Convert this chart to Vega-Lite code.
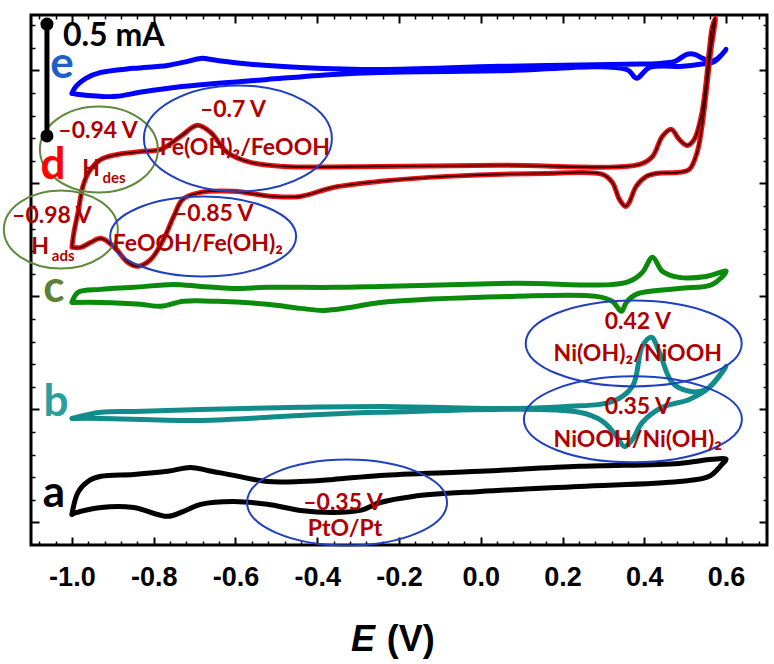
{
  "$schema": "https://vega.github.io/schema/vega-lite/v6.json",
  "width": 736,
  "height": 530,
  "autosize": "none",
  "padding": {"left": 31, "top": 15, "right": 7, "bottom": 119},
  "config": {
    "view": {"stroke": "black", "strokeWidth": 3},
    "axis": {"domain": false, "grid": false, "tickColor": "black", "labels": false}
  },
  "datasets": {
    "curves": [
      {"c":"e","i":0,"E":-1.0,"I":1.898},{"c":"e","i":1,"E":-0.99,"I":1.929},{"c":"e","i":2,"E":-0.966,"I":1.965},{"c":"e","i":3,"E":-0.929,"I":1.991},{"c":"e","i":4,"E":-0.849,"I":2.009},{"c":"e","i":5,"E":-0.766,"I":2.022},{"c":"e","i":6,"E":-0.717,"I":2.04},{"c":"e","i":7,"E":-0.685,"I":2.053},{"c":"e","i":8,"E":-0.644,"I":2.044},{"c":"e","i":9,"E":-0.563,"I":2.027},{"c":"e","i":10,"E":-0.441,"I":2.013},{"c":"e","i":11,"E":-0.246,"I":2.004},{"c":"e","i":12,"E":0.046,"I":2.018},{"c":"e","i":13,"E":0.357,"I":2.027},{"c":"e","i":14,"E":0.438,"I":2.031},{"c":"e","i":15,"E":0.475,"I":2.04},{"c":"e","i":16,"E":0.504,"I":2.071},{"c":"e","i":17,"E":0.523,"I":2.071},{"c":"e","i":18,"E":0.543,"I":2.053},{"c":"e","i":19,"E":0.565,"I":2.04},{"c":"e","i":20,"E":0.585,"I":2.062},{"c":"e","i":21,"E":0.6,"I":2.093},{"c":"e","i":22,"E":0.572,"I":2.04},{"c":"e","i":23,"E":0.536,"I":2.027},{"c":"e","i":24,"E":0.494,"I":2.018},{"c":"e","i":25,"E":0.413,"I":2.013},{"c":"e","i":26,"E":0.381,"I":1.965},{"c":"e","i":27,"E":0.357,"I":2.004},{"c":"e","i":28,"E":0.046,"I":1.998},{"c":"e","i":29,"E":-0.246,"I":1.991},{"c":"e","i":30,"E":-0.361,"I":1.982},{"c":"e","i":31,"E":-0.522,"I":1.96},{"c":"e","i":32,"E":-0.685,"I":1.936},{"c":"e","i":33,"E":-0.768,"I":1.92},{"c":"e","i":34,"E":-0.834,"I":1.903},{"c":"e","i":35,"E":-0.89,"I":1.885},{"c":"e","i":36,"E":-0.931,"I":1.885},{"c":"e","i":37,"E":-0.988,"I":1.894},{"c":"e","i":38,"E":-1.0,"I":1.898},
      {"c":"d","i":0,"E":-1.0,"I":1.217},{"c":"d","i":1,"E":-0.995,"I":1.283},{"c":"d","i":2,"E":-0.985,"I":1.372},{"c":"d","i":3,"E":-0.973,"I":1.487},{"c":"d","i":4,"E":-0.959,"I":1.549},{"c":"d","i":5,"E":-0.929,"I":1.606},{"c":"d","i":6,"E":-0.888,"I":1.628},{"c":"d","i":7,"E":-0.824,"I":1.642},{"c":"d","i":8,"E":-0.783,"I":1.65},{"c":"d","i":9,"E":-0.734,"I":1.708},{"c":"d","i":10,"E":-0.693,"I":1.757},{"c":"d","i":11,"E":-0.661,"I":1.726},{"c":"d","i":12,"E":-0.62,"I":1.637},{"c":"d","i":13,"E":-0.563,"I":1.593},{"c":"d","i":14,"E":-0.483,"I":1.575},{"c":"d","i":15,"E":-0.246,"I":1.575},{"c":"d","i":16,"E":0.046,"I":1.58},{"c":"d","i":17,"E":0.388,"I":1.584},{"c":"d","i":18,"E":0.42,"I":1.619},{"c":"d","i":19,"E":0.444,"I":1.708},{"c":"d","i":20,"E":0.466,"I":1.739},{"c":"d","i":21,"E":0.485,"I":1.695},{"c":"d","i":22,"E":0.505,"I":1.668},{"c":"d","i":23,"E":0.522,"I":1.695},{"c":"d","i":24,"E":0.539,"I":1.796},{"c":"d","i":25,"E":0.551,"I":1.947},{"c":"d","i":26,"E":0.559,"I":2.093},{"c":"d","i":27,"E":0.566,"I":2.19},{"c":"d","i":28,"E":0.574,"I":2.232},{"c":"d","i":29,"E":0.57,"I":2.175},{"c":"d","i":30,"E":0.563,"I":2.093},{"c":"d","i":31,"E":0.554,"I":1.947},{"c":"d","i":32,"E":0.541,"I":1.752},{"c":"d","i":33,"E":0.529,"I":1.637},{"c":"d","i":34,"E":0.51,"I":1.562},{"c":"d","i":35,"E":0.485,"I":1.549},{"c":"d","i":36,"E":0.429,"I":1.544},{"c":"d","i":37,"E":0.405,"I":1.531},{"c":"d","i":38,"E":0.38,"I":1.487},{"c":"d","i":39,"E":0.363,"I":1.416},{"c":"d","i":40,"E":0.354,"I":1.398},{"c":"d","i":41,"E":0.339,"I":1.429},{"c":"d","i":42,"E":0.322,"I":1.504},{"c":"d","i":43,"E":0.298,"I":1.54},{"c":"d","i":44,"E":0.161,"I":1.544},{"c":"d","i":45,"E":-0.083,"I":1.531},{"c":"d","i":46,"E":-0.246,"I":1.509},{"c":"d","i":47,"E":-0.361,"I":1.482},{"c":"d","i":48,"E":-0.441,"I":1.442},{"c":"d","i":49,"E":-0.507,"I":1.442},{"c":"d","i":50,"E":-0.605,"I":1.465},{"c":"d","i":51,"E":-0.685,"I":1.46},{"c":"d","i":52,"E":-0.729,"I":1.429},{"c":"d","i":53,"E":-0.751,"I":1.354},{"c":"d","i":54,"E":-0.776,"I":1.252},{"c":"d","i":55,"E":-0.807,"I":1.164},{"c":"d","i":56,"E":-0.839,"I":1.133},{"c":"d","i":57,"E":-0.863,"I":1.15},{"c":"d","i":58,"E":-0.898,"I":1.221},{"c":"d","i":59,"E":-0.929,"I":1.257},{"c":"d","i":60,"E":-0.954,"I":1.239},{"c":"d","i":61,"E":-0.978,"I":1.217},{"c":"d","i":62,"E":-1.0,"I":1.217},
      {"c":"c","i":0,"E":-1.0,"I":0.973},{"c":"c","i":1,"E":-0.985,"I":1.018},{"c":"c","i":2,"E":-0.929,"I":1.031},{"c":"c","i":3,"E":-0.849,"I":1.04},{"c":"c","i":4,"E":-0.751,"I":1.053},{"c":"c","i":5,"E":-0.685,"I":1.044},{"c":"c","i":6,"E":-0.605,"I":1.035},{"c":"c","i":7,"E":-0.522,"I":1.04},{"c":"c","i":8,"E":-0.361,"I":1.04},{"c":"c","i":9,"E":-0.246,"I":1.044},{"c":"c","i":10,"E":0.078,"I":1.058},{"c":"c","i":11,"E":0.356,"I":1.062},{"c":"c","i":12,"E":0.395,"I":1.106},{"c":"c","i":13,"E":0.42,"I":1.173},{"c":"c","i":14,"E":0.444,"I":1.111},{"c":"c","i":15,"E":0.485,"I":1.084},{"c":"c","i":16,"E":0.551,"I":1.088},{"c":"c","i":17,"E":0.6,"I":1.111},{"c":"c","i":18,"E":0.566,"I":1.053},{"c":"c","i":19,"E":0.485,"I":1.035},{"c":"c","i":20,"E":0.38,"I":1.009},{"c":"c","i":21,"E":0.356,"I":0.973},{"c":"c","i":22,"E":0.344,"I":0.934},{"c":"c","i":23,"E":0.322,"I":0.978},{"c":"c","i":24,"E":0.283,"I":1.0},{"c":"c","i":25,"E":0.078,"I":1.0},{"c":"c","i":26,"E":-0.246,"I":0.973},{"c":"c","i":27,"E":-0.32,"I":0.951},{"c":"c","i":28,"E":-0.385,"I":0.938},{"c":"c","i":29,"E":-0.441,"I":0.947},{"c":"c","i":30,"E":-0.522,"I":0.965},{"c":"c","i":31,"E":-0.644,"I":0.978},{"c":"c","i":32,"E":-0.727,"I":0.978},{"c":"c","i":33,"E":-0.783,"I":0.956},{"c":"c","i":34,"E":-0.832,"I":0.965},{"c":"c","i":35,"E":-0.929,"I":0.973},{"c":"c","i":36,"E":-1.0,"I":0.973},
      {"c":"b","i":0,"E":-1.0,"I":0.46},{"c":"b","i":1,"E":-0.929,"I":0.487},{"c":"b","i":2,"E":-0.849,"I":0.491},{"c":"b","i":3,"E":-0.685,"I":0.5},{"c":"b","i":4,"E":-0.441,"I":0.509},{"c":"b","i":5,"E":-0.246,"I":0.513},{"c":"b","i":6,"E":0.078,"I":0.504},{"c":"b","i":7,"E":0.21,"I":0.513},{"c":"b","i":8,"E":0.322,"I":0.535},{"c":"b","i":9,"E":0.371,"I":0.602},{"c":"b","i":10,"E":0.395,"I":0.779},{"c":"b","i":11,"E":0.417,"I":0.819},{"c":"b","i":12,"E":0.437,"I":0.752},{"c":"b","i":13,"E":0.468,"I":0.619},{"c":"b","i":14,"E":0.51,"I":0.58},{"c":"b","i":15,"E":0.551,"I":0.588},{"c":"b","i":16,"E":0.6,"I":0.69},{"c":"b","i":17,"E":0.559,"I":0.597},{"c":"b","i":18,"E":0.51,"I":0.544},{"c":"b","i":19,"E":0.444,"I":0.509},{"c":"b","i":20,"E":0.395,"I":0.442},{"c":"b","i":21,"E":0.371,"I":0.367},{"c":"b","i":22,"E":0.351,"I":0.336},{"c":"b","i":23,"E":0.332,"I":0.381},{"c":"b","i":24,"E":0.298,"I":0.447},{"c":"b","i":25,"E":0.241,"I":0.487},{"c":"b","i":26,"E":-0.246,"I":0.487},{"c":"b","i":27,"E":-0.441,"I":0.473},{"c":"b","i":28,"E":-0.685,"I":0.451},{"c":"b","i":29,"E":-0.929,"I":0.46},{"c":"b","i":30,"E":-1.0,"I":0.46},
      {"c":"a","i":0,"E":-1.0,"I":0.035},{"c":"a","i":1,"E":-0.985,"I":0.133},{"c":"a","i":2,"E":-0.961,"I":0.181},{"c":"a","i":3,"E":-0.929,"I":0.204},{"c":"a","i":4,"E":-0.849,"I":0.212},{"c":"a","i":5,"E":-0.766,"I":0.226},{"c":"a","i":6,"E":-0.71,"I":0.243},{"c":"a","i":7,"E":-0.668,"I":0.23},{"c":"a","i":8,"E":-0.605,"I":0.208},{"c":"a","i":9,"E":-0.522,"I":0.181},{"c":"a","i":10,"E":-0.441,"I":0.181},{"c":"a","i":11,"E":-0.361,"I":0.19},{"c":"a","i":12,"E":-0.246,"I":0.208},{"c":"a","i":13,"E":-0.002,"I":0.226},{"c":"a","i":14,"E":0.241,"I":0.248},{"c":"a","i":15,"E":0.485,"I":0.261},{"c":"a","i":16,"E":0.566,"I":0.279},{"c":"a","i":17,"E":0.6,"I":0.279},{"c":"a","i":18,"E":0.59,"I":0.257},{"c":"a","i":19,"E":0.559,"I":0.204},{"c":"a","i":20,"E":0.485,"I":0.181},{"c":"a","i":21,"E":0.241,"I":0.159},{"c":"a","i":22,"E":-0.002,"I":0.137},{"c":"a","i":23,"E":-0.166,"I":0.115},{"c":"a","i":24,"E":-0.246,"I":0.088},{"c":"a","i":25,"E":-0.295,"I":0.053},{"c":"a","i":26,"E":-0.361,"I":0.044},{"c":"a","i":27,"E":-0.441,"I":0.053},{"c":"a","i":28,"E":-0.522,"I":0.08},{"c":"a","i":29,"E":-0.605,"I":0.093},{"c":"a","i":30,"E":-0.685,"I":0.08},{"c":"a","i":31,"E":-0.727,"I":0.049},{"c":"a","i":32,"E":-0.766,"I":0.027},{"c":"a","i":33,"E":-0.849,"I":0.066},{"c":"a","i":34,"E":-0.929,"I":0.066},{"c":"a","i":35,"E":-0.995,"I":0.04},{"c":"a","i":36,"E":-1.0,"I":0.035}
    ],
    "ellipses": [
      {"id":"Hdes","k":"green","E":-0.934,"I":1.65},
      {"id":"FeOx","k":"blue","E":-0.594,"I":1.699},
      {"id":"Hads","k":"green","E":-1.027,"I":1.296},
      {"id":"FeRed","k":"blue","E":-0.679,"I":1.265},
      {"id":"NiOx","k":"blue","E":0.374,"I":0.792},
      {"id":"NiRed","k":"blue","E":0.372,"I":0.456},
      {"id":"PtO","k":"blue","E":-0.327,"I":0.088}
    ],
    "notes": [
      {"t":"–0.94 V","E":-0.936,"I":1.73},
      {"t":"–0.7 V","E":-0.606,"I":1.823},
      {"t":"Fe(OH)₂/FeOOH","E":-0.577,"I":1.655},
      {"t":"–0.98 V","E":-1.049,"I":1.354},
      {"t":"–0.85 V","E":-0.653,"I":1.363},
      {"t":"FeOOH/Fe(OH)₂","E":-0.692,"I":1.23},
      {"t":"0.42 V","E":0.384,"I":0.885},
      {"t":"Ni(OH)₂/NiOOH","E":0.384,"I":0.743},
      {"t":"0.35 V","E":0.384,"I":0.509},
      {"t":"NiOOH/Ni(OH)₂","E":0.384,"I":0.363},
      {"t":"–0.35 V","E":-0.337,"I":0.088},
      {"t":"PtO/Pt","E":-0.332,"I":-0.027}
    ],
    "hmain": [
      {"t":"H","E":-0.931,"I":1.531},
      {"t":"H","E":-1.056,"I":1.186}
    ],
    "hsub": [
      {"t":"des","E":-0.925,"I":1.5},
      {"t":"ads","E":-1.049,"I":1.155}
    ],
    "letters": [
      {"c":"e","E":-1.024,"I":1.965},
      {"c":"d","E":-1.046,"I":1.518},
      {"c":"c","E":-1.044,"I":0.973},
      {"c":"b","E":-1.039,"I":0.469},
      {"c":"a","E":-1.044,"I":0.066}
    ],
    "bar": [{"E":-1.061,"I":1.71,"I2":2.205}],
    "barEnds": [{"E":-1.061,"I":1.71},{"E":-1.061,"I":2.205}],
    "barText": [{"t":"0.5 mA","E":-1.022,"I":2.106}],
    "titleE": [{"t":"E","E":-0.288,"I":-0.571}],
    "titleV": [{"t":"(V)","E":-0.171,"I":-0.571}]
  },
  "resolve": {"axis": {"x": "independent", "y": "independent"}},
  "layer": [
    {
      "data": {"name": "curves"},
      "mark": {"type": "line", "strokeWidth": 5, "strokeJoin": "round", "strokeCap": "round", "interpolate": "catmull-rom"},
      "encoding": {
        "x": {"field": "E", "type": "quantitative", "scale": {"domain": [-1.1, 0.7], "nice": false, "zero": false},
              "axis": {"orient": "bottom", "values": [-1, -0.8, -0.6, -0.4, -0.2, 0, 0.2, 0.4, 0.6], "labels": true, "ticks": false,
                       "labelExpr": "(datum.value < -0.001 ? '-' : '') + format(abs(datum.value), '.1f')",
                       "labelFont": "Liberation Sans", "labelFontWeight": "bold", "labelFontSize": 27, "labelColor": "black", "labelPadding": 19, "title": null}},
        "y": {"field": "I", "type": "quantitative", "scale": {"domain": [-0.1, 2.245], "nice": false, "zero": false},
              "axis": {"orient": "left", "values": [0, 0.5, 1, 1.5, 2], "tickSize": -8, "tickWidth": 2, "title": null}},
        "stroke": {"field": "c", "type": "nominal", "legend": null,
                   "scale": {"domain": ["a", "b", "c", "d", "e", "blue", "green"], "range": ["#000000", "#128b8b", "#0b8a0b", "#f01010", "#0000ff", "#2040c0", "#5f8a3c"]}},
        "order": {"field": "i", "type": "quantitative"}
      }
    },
    {
      "data": {"name": "curves"},
      "transform": [{"filter": "datum.c == 'd'"}],
      "mark": {"type": "line", "strokeWidth": 1.8, "color": "#3a0000", "strokeJoin": "round", "interpolate": "catmull-rom"},
      "encoding": {
        "x": {"field": "E", "type": "quantitative", "scale": {"domain": [-1.1, 0.7], "nice": false, "zero": false},
              "axis": {"orient": "bottom", "values": [-1, -0.8, -0.6, -0.4, -0.2, 0, 0.2, 0.4, 0.6], "tickSize": -8, "tickWidth": 2, "title": null}},
        "y": {"field": "I", "type": "quantitative", "scale": {"domain": [-0.1, 2.245], "nice": false, "zero": false},
              "axis": {"orient": "left", "values": [0.1, 0.2, 0.3, 0.4, 0.6, 0.7, 0.8, 0.9, 1.1, 1.2, 1.3, 1.4, 1.6, 1.7, 1.8, 1.9, 2.1, 2.2], "tickSize": -4, "tickWidth": 1.5, "title": null}},
        "order": {"field": "i", "type": "quantitative"}
      }
    },
    {
      "data": {"name": "ellipses"},
      "mark": {"type": "point", "filled": false, "size": 4, "strokeWidth": 2, "opacity": 1},
      "encoding": {
        "x": {"field": "E", "type": "quantitative", "scale": {"domain": [-1.1, 0.7], "nice": false, "zero": false},
              "axis": {"orient": "bottom", "values": [-1.08, -1.04, -0.96, -0.92, -0.88, -0.84, -0.76, -0.72, -0.68, -0.64, -0.56, -0.52, -0.48, -0.44, -0.36, -0.32, -0.28, -0.24, -0.16, -0.12, -0.08, -0.04, 0.04, 0.08, 0.12, 0.16, 0.24, 0.28, 0.32, 0.36, 0.44, 0.48, 0.52, 0.56, 0.64, 0.68], "tickSize": -4, "tickWidth": 1.5, "title": null}},
        "y": {"field": "I", "type": "quantitative", "scale": {"domain": [-0.1, 2.245], "nice": false, "zero": false},
              "axis": {"orient": "right", "values": [0, 0.5, 1, 1.5, 2], "tickSize": -8, "tickWidth": 2, "title": null}},
        "shape": {"field": "id", "type": "nominal", "legend": null,
                  "scale": {"domain": ["Hdes", "FeOx", "Hads", "FeRed", "NiOx", "NiRed", "PtO"],
                            "range": ["M -59 0 A 59 43 0 1 1 59 0 A 59 43 0 1 1 -59 0 Z",
                                      "M -94 0 A 94 53 0 1 1 94 0 A 94 53 0 1 1 -94 0 Z",
                                      "M -57 0 A 57 39 0 1 1 57 0 A 57 39 0 1 1 -57 0 Z",
                                      "M -93 0 A 93 40 0 1 1 93 0 A 93 40 0 1 1 -93 0 Z",
                                      "M -108 0 A 108 43 0 1 1 108 0 A 108 43 0 1 1 -108 0 Z",
                                      "M -109 0 A 109 43 0 1 1 109 0 A 109 43 0 1 1 -109 0 Z",
                                      "M -100 0 A 100 43 0 1 1 100 0 A 100 43 0 1 1 -100 0 Z"]}},
        "stroke": {"field": "k", "type": "nominal", "legend": null,
                   "scale": {"domain": ["a", "b", "c", "d", "e", "blue", "green"], "range": ["#000000", "#128b8b", "#0b8a0b", "#f01010", "#0000ff", "#2040c0", "#5f8a3c"]}}
      }
    },
    {
      "data": {"name": "notes"},
      "mark": {"type": "text", "font": "Lato, Noto Sans", "fontWeight": "bold", "fontSize": 23, "fill": "#b00000", "align": "center", "baseline": "middle"},
      "encoding": {
        "x": {"field": "E", "type": "quantitative", "scale": {"domain": [-1.1, 0.7], "nice": false, "zero": false},
              "axis": {"orient": "top", "values": [-1, -0.8, -0.6, -0.4, -0.2, 0, 0.2, 0.4, 0.6], "tickSize": -8, "tickWidth": 2, "title": null}},
        "y": {"field": "I", "type": "quantitative", "scale": {"domain": [-0.1, 2.245], "nice": false, "zero": false},
              "axis": {"orient": "right", "values": [0.1, 0.2, 0.3, 0.4, 0.6, 0.7, 0.8, 0.9, 1.1, 1.2, 1.3, 1.4, 1.6, 1.7, 1.8, 1.9, 2.1, 2.2], "tickSize": -4, "tickWidth": 1.5, "title": null}},
        "text": {"field": "t", "type": "nominal"}
      }
    },
    {
      "data": {"name": "hmain"},
      "mark": {"type": "text", "font": "Lato, Noto Sans", "fontWeight": "bold", "fontSize": 23, "fill": "#b00000", "align": "right", "baseline": "alphabetic"},
      "encoding": {
        "x": {"field": "E", "type": "quantitative", "scale": {"domain": [-1.1, 0.7], "nice": false, "zero": false},
              "axis": {"orient": "top", "values": [-1.08, -1.04, -0.96, -0.92, -0.88, -0.84, -0.76, -0.72, -0.68, -0.64, -0.56, -0.52, -0.48, -0.44, -0.36, -0.32, -0.28, -0.24, -0.16, -0.12, -0.08, -0.04, 0.04, 0.08, 0.12, 0.16, 0.24, 0.28, 0.32, 0.36, 0.44, 0.48, 0.52, 0.56, 0.64, 0.68], "tickSize": -4, "tickWidth": 1.5, "title": null}},
        "y": {"field": "I", "type": "quantitative", "scale": {"domain": [-0.1, 2.245], "nice": false, "zero": false}, "axis": null},
        "text": {"field": "t", "type": "nominal"}
      }
    },
    {
      "data": {"name": "hsub"},
      "mark": {"type": "text", "font": "Lato, Noto Sans", "fontWeight": "bold", "fontSize": 15, "fill": "#b00000", "align": "left", "baseline": "alphabetic"},
      "encoding": {
        "x": {"field": "E", "type": "quantitative", "scale": {"domain": [-1.1, 0.7], "nice": false, "zero": false}, "axis": null},
        "y": {"field": "I", "type": "quantitative", "scale": {"domain": [-0.1, 2.245], "nice": false, "zero": false}, "axis": null},
        "text": {"field": "t", "type": "nominal"}
      }
    },
    {
      "data": {"name": "letters"},
      "mark": {"type": "text", "font": "Lato, Noto Sans", "fontWeight": "bold", "fontSize": 44, "align": "center", "baseline": "alphabetic"},
      "encoding": {
        "x": {"field": "E", "type": "quantitative", "scale": {"domain": [-1.1, 0.7], "nice": false, "zero": false}, "axis": null},
        "y": {"field": "I", "type": "quantitative", "scale": {"domain": [-0.1, 2.245], "nice": false, "zero": false}, "axis": null},
        "text": {"field": "c", "type": "nominal"},
        "fill": {"field": "c", "type": "nominal", "legend": null,
                 "scale": {"domain": ["a", "b", "c", "d", "e"], "range": ["#000000", "#2a9d9d", "#5b8036", "#ff0000", "#1f5fc8"]}}
      }
    },
    {
      "data": {"name": "bar"},
      "mark": {"type": "rule", "strokeWidth": 5, "color": "black"},
      "encoding": {
        "x": {"field": "E", "type": "quantitative", "scale": {"domain": [-1.1, 0.7], "nice": false, "zero": false}, "axis": null},
        "y": {"field": "I", "type": "quantitative", "scale": {"domain": [-0.1, 2.245], "nice": false, "zero": false}, "axis": null},
        "y2": {"field": "I2"}
      }
    },
    {
      "data": {"name": "barEnds"},
      "mark": {"type": "point", "filled": true, "shape": "circle", "size": 170, "color": "black", "opacity": 1},
      "encoding": {
        "x": {"field": "E", "type": "quantitative", "scale": {"domain": [-1.1, 0.7], "nice": false, "zero": false}, "axis": null},
        "y": {"field": "I", "type": "quantitative", "scale": {"domain": [-0.1, 2.245], "nice": false, "zero": false}, "axis": null}
      }
    },
    {
      "data": {"name": "barText"},
      "mark": {"type": "text", "font": "Lato, Noto Sans", "fontWeight": "bold", "fontSize": 32, "fill": "black", "align": "left", "baseline": "alphabetic"},
      "encoding": {
        "x": {"field": "E", "type": "quantitative", "scale": {"domain": [-1.1, 0.7], "nice": false, "zero": false}, "axis": null},
        "y": {"field": "I", "type": "quantitative", "scale": {"domain": [-0.1, 2.245], "nice": false, "zero": false}, "axis": null},
        "text": {"field": "t", "type": "nominal"}
      }
    },
    {
      "data": {"name": "titleE"},
      "mark": {"type": "text", "font": "Liberation Sans", "fontWeight": "bold", "fontStyle": "italic", "fontSize": 36, "fill": "black", "align": "center", "baseline": "alphabetic"},
      "encoding": {
        "x": {"field": "E", "type": "quantitative", "scale": {"domain": [-1.1, 0.7], "nice": false, "zero": false}, "axis": null},
        "y": {"field": "I", "type": "quantitative", "scale": {"domain": [-0.1, 2.245], "nice": false, "zero": false}, "axis": null},
        "text": {"field": "t", "type": "nominal"}
      }
    },
    {
      "data": {"name": "titleV"},
      "mark": {"type": "text", "font": "Liberation Sans", "fontWeight": "bold", "fontSize": 36, "fill": "black", "align": "center", "baseline": "alphabetic"},
      "encoding": {
        "x": {"field": "E", "type": "quantitative", "scale": {"domain": [-1.1, 0.7], "nice": false, "zero": false}, "axis": null},
        "y": {"field": "I", "type": "quantitative", "scale": {"domain": [-0.1, 2.245], "nice": false, "zero": false}, "axis": null},
        "text": {"field": "t", "type": "nominal"}
      }
    }
  ]
}
